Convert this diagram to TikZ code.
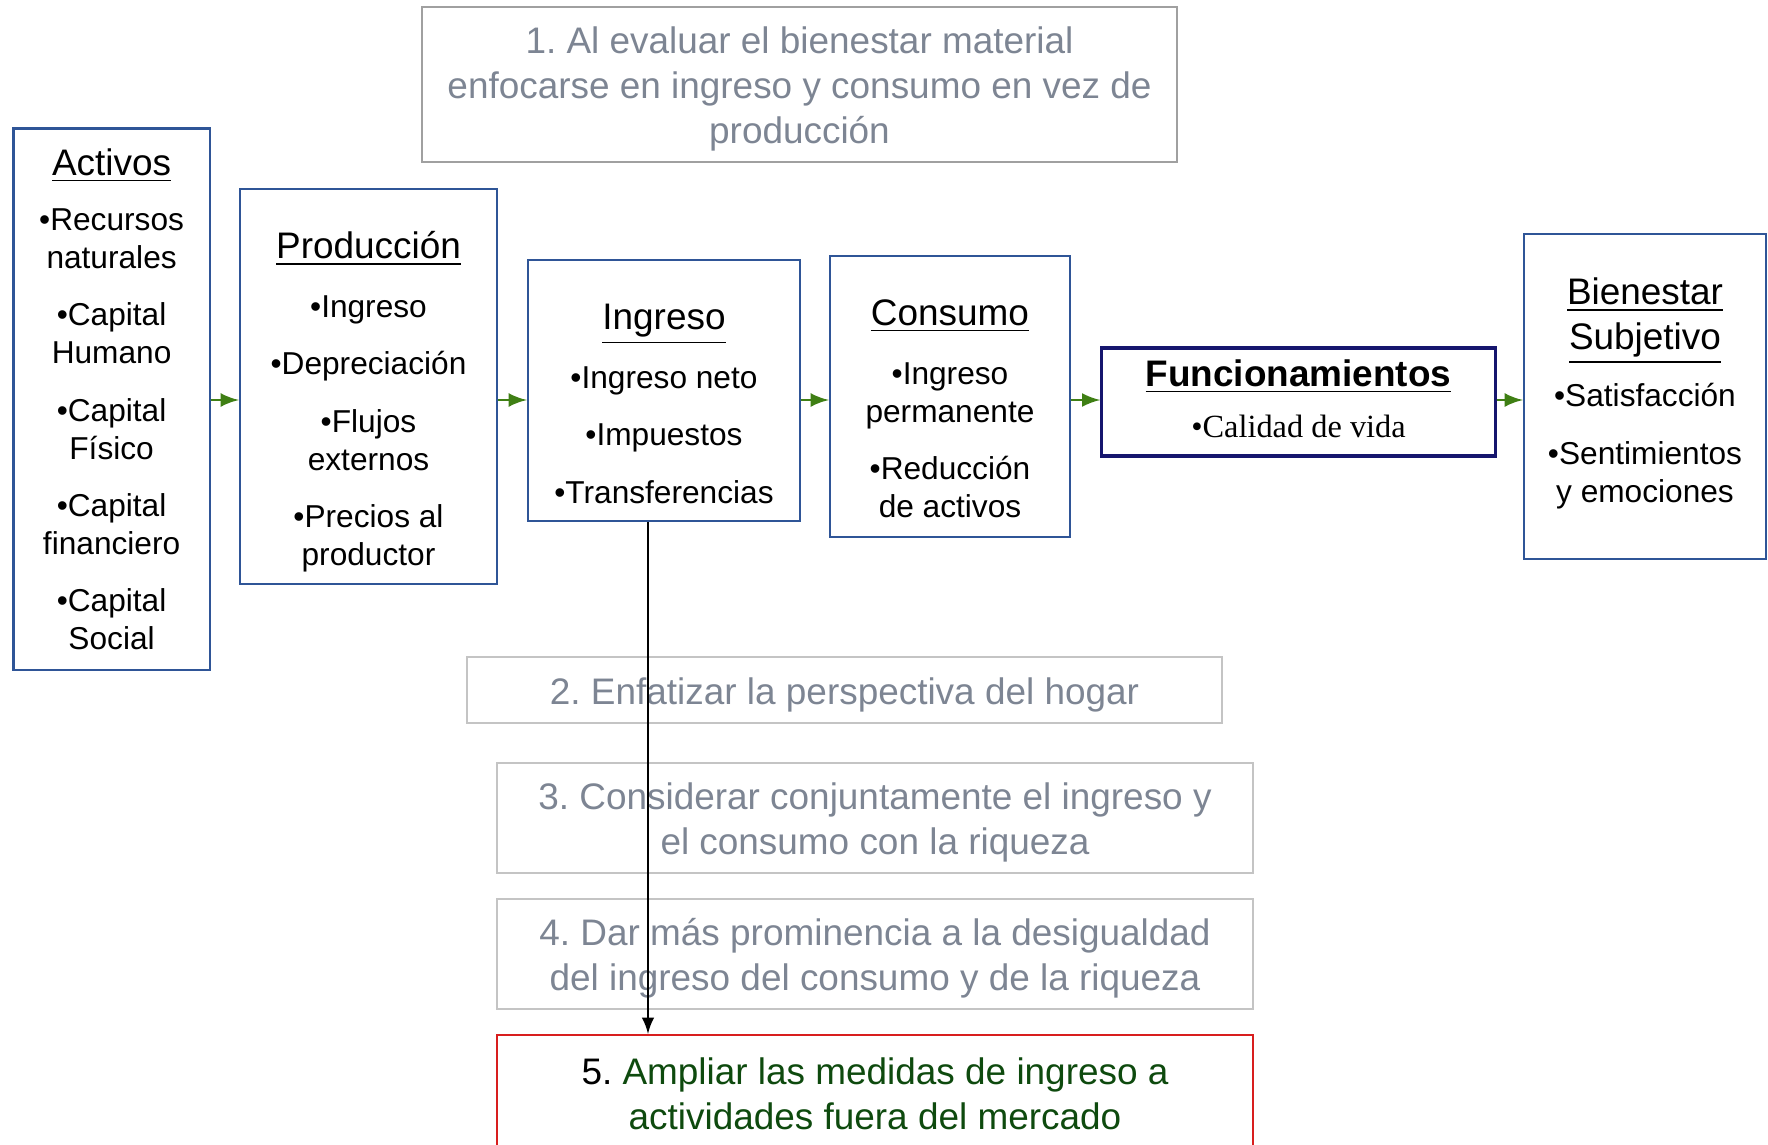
\documentclass[tikz,border=0pt]{standalone}
\usepackage{fontspec}
\setmainfont{Liberation Sans}
\newfontfamily\timesfont{Liberation Serif}
\frenchspacing
\usetikzlibrary{arrows, positioning}
\definecolor{mblue}{HTML}{2F5597}
\definecolor{mnavy}{HTML}{16166E}
\definecolor{mgreen}{HTML}{3F7F14}
\definecolor{mgray}{HTML}{7D8593}
\definecolor{mline}{HTML}{A0A0A0}
\definecolor{mlight}{HTML}{C4C4C4}
\definecolor{mred}{HTML}{D81E1E}
\definecolor{mdkgreen}{HTML}{0E4A0E}
\newcommand{\ttl}[1]{{\fontsize{10.5}{12.8}\selectfont\underline{#1}}}
\newcommand{\padtop}[1]{\rule{0pt}{#1}}
\newcommand{\padbot}[1]{\rule[-#1]{0pt}{0pt}}
\tikzstyle{stage} = [rectangle, draw = mblue, line width = 0.6pt, inner sep = 0pt, align = center, font = \fontsize{9}{10.8}\selectfont]
\tikzstyle{note} = [rectangle, draw = mlight, line width = 0.6pt, inner sep = 0pt, align = center, text = mgray, font = \fontsize{10.5}{12.8}\selectfont]
\tikzstyle{goal} = [rectangle, draw = mred, line width = 0.6pt, inner sep = 0pt, align = center, text = mdkgreen, font = \fontsize{10.5}{12.8}\selectfont]
\tikzstyle{flow} = [thick, ->, >=latex, mgreen]
\tikzstyle{link} = [semithick, ->, >=latex]

\begin{document}
\begin{tikzpicture}[x=0.01cm, y=-0.01cm]
  \useasboundingbox (0,0) rectangle (1768,1145);
  \coordinate (axis) at (0,400);
  \node (activos) [stage, minimum width=1.96cm, minimum height=5.41cm] at (111.6,399.2)
    {\ttl{Activos}\\[5pt] •Recursos\\naturales\\[5.5pt] •Capital\\Humano\\[5.5pt] •Capital\\Físico\\[5.5pt] •Capital\\financiero\\[5.5pt] •Capital\\Social};
  \node (prod) [stage, minimum width=2.57cm, minimum height=3.95cm] at (368.5,386.5)
    {\padtop{16.5pt}\ttl{Producción}\\[5.9pt] •Ingreso\\[5.5pt] •Depreciación\\[5.5pt] •Flujos\\externos\\[5.5pt] •Precios al\\productor};
  \node (ingreso) [stage, minimum width=2.72cm, minimum height=2.61cm] at (664,390.5)
    {\padtop{14.9pt}\ttl{Ingreso}\\[5.9pt] •Ingreso neto\\[5.5pt] •Impuestos\\[5.5pt] •Transferencias};
  \node (consumo) [stage, minimum width=2.40cm, minimum height=2.81cm] at (950,396.5)
    {\padtop{14.3pt}\ttl{Consumo}\\[5.9pt] •Ingreso\\permanente\\[5.5pt] •Reducción\\de activos};
  \node (func) [stage, draw=mnavy, line width=0.9pt, minimum width=3.93cm, minimum height=1.08cm] at (1298.5,402)
    {{\fontsize{10.5}{12.8}\selectfont\bfseries\underline{Funcionamientos}}\\[3.9pt] {\timesfont\fontsize{9.2}{10.8}\selectfont •Calidad de vida}\padbot{1.9pt}};
  \node (bienestar) [stage, minimum width=2.42cm, minimum height=3.245cm] at (1645,396.7)
    {\ttl{Bienestar}\\[2pt] \ttl{Subjetivo}\\[4.5pt] •Satisfacción\\[5.5pt] •Sentimientos\\y emociones\padbot{3.8pt}};
  \node (evaluar) [note, draw=mline, minimum width=7.55cm, minimum height=1.55cm] at (799.5,84.5)
    {\padtop{10.3pt}1. Al evaluar el bienestar material\\enfocarse en ingreso y consumo en vez de\\producción};
  \node (hogar) [note, minimum width=7.55cm, minimum height=0.66cm] at (844.5,690)
    {\padtop{10.3pt}2. Enfatizar la perspectiva del hogar};
  \node (riqueza) [note, minimum width=7.56cm, minimum height=1.10cm] at (875,818)
    {\padtop{10.3pt}3. Considerar conjuntamente el ingreso y\\el consumo con la riqueza};
  \node (desig) [note, minimum width=7.56cm, minimum height=1.10cm] at (875,954)
    {\padtop{10.3pt}4. Dar más prominencia a la desigualdad\\del ingreso del consumo y de la riqueza};
  \node (fuera) [goal, minimum width=7.56cm, minimum height=1.18cm] at (875,1094)
    {\textcolor{black}{5.} Ampliar las medidas de ingreso a\\actividades fuera del mercado};
  \draw [flow] (activos.east |- axis) -- (prod.west |- axis);
  \draw [flow] (prod.east |- axis) -- (ingreso.west |- axis);
  \draw [flow] (ingreso.east |- axis) -- (consumo.west |- axis);
  \draw [flow] (consumo.east |- axis) -- (func.west |- axis);
  \draw [flow] (func.east |- axis) -- (bienestar.west |- axis);
  \draw [link] ([xshift=-0.16cm]ingreso.south) -- ([xshift=-0.16cm]ingreso.south |- fuera.north);
\end{tikzpicture}
\end{document}
